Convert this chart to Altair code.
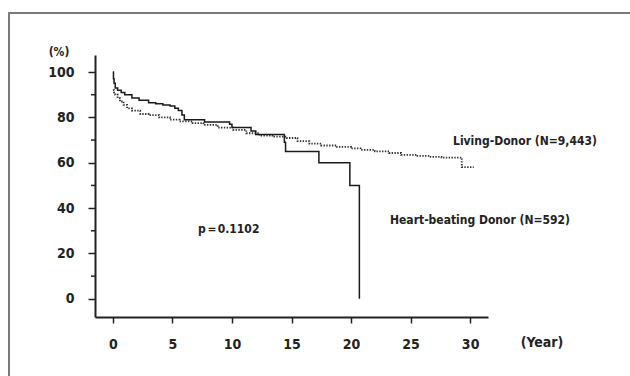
import altair as alt
import pandas as pd

# Heart-beating donor (solid) Kaplan-Meier steps
hb_years = [0, 0.05, 0.1, 0.2, 0.4, 0.7, 1.0, 1.6, 2.2, 3.0, 3.6, 4.2, 4.8, 5.2, 5.5, 5.8, 6.0, 7.7, 9.8, 10.0, 11.6, 12.0, 14.4, 14.5, 17.3, 19.9, 20.7, 20.7]
hb_surv  = [100, 97, 95, 93, 92, 91, 90, 88.5, 87.5, 86.5, 86, 85.5, 85, 84, 83, 81, 79, 78, 77, 75.5, 74, 72.5, 69, 65, 60, 50, 50, 0]

# Living donor (dotted) Kaplan-Meier steps
ld_years = [0, 0.1, 0.2, 0.4, 0.6, 0.9, 1.2, 1.6, 2.3, 3.0, 3.9, 4.8, 5.6, 6.7, 7.6, 8.8, 10.1, 11.2, 12.3, 13.4, 14.6, 15.5, 16.5, 17.5, 18.8, 20.0, 20.8, 22.0, 23.2, 24.2, 25.5, 26.6, 27.6, 29.3, 30.3]
ld_surv  = [92, 91, 90, 88.5, 87, 85.5, 84, 83, 81.5, 81, 80, 79, 78.2, 77.5, 76.7, 75.5, 74.5, 73, 72, 71.5, 70.9, 69.5, 68.4, 67.6, 67, 66.3, 65.7, 65, 64.3, 63.5, 63, 62.6, 62.3, 58.1, 58.1]

x_ticks = [0, 5, 10, 15, 20, 25, 30]
y_ticks = [0, 20, 40, 60, 80, 100]
y_minor = [10, 30, 50, 70, 90]

hb = pd.DataFrame({"year": hb_years, "surv": hb_surv})
ld = pd.DataFrame({"year": ld_years, "surv": ld_surv})

FONT = "DejaVu Sans Condensed"
xs = alt.Scale(domain=[-1.5, 31.5], nice=False, zero=False)
ys = alt.Scale(domain=[-8, 107.5], nice=False, zero=False)

x_enc = alt.X("year:Q", scale=xs, axis=alt.Axis(values=x_ticks, title=None, grid=False, tickSize=6,
              labelPadding=14, labelFontSize=14, labelFont=FONT, labelFontWeight="bold",
              domainColor="#222", domainWidth=2, tickColor="#222", tickWidth=1.5, labelColor="#222"))
y_enc = alt.Y("surv:Q", scale=ys, axis=alt.Axis(values=y_ticks, title=None, grid=False, tickSize=7,
              labelPadding=14, labelFontSize=14, labelFont=FONT, labelFontWeight="bold",
              domainColor="#222", domainWidth=2, tickColor="#222", tickWidth=1.5, labelColor="#222"))

living = alt.Chart(ld).mark_line(interpolate="step-after", color="#333", strokeWidth=1.8,
                                 strokeDash=[1.4, 1.4]).encode(x=x_enc, y=y_enc)
heart = alt.Chart(hb).mark_line(interpolate="step-after", color="#1a1a1a", strokeWidth=1.5).encode(
    x=alt.X("year:Q", scale=xs), y=alt.Y("surv:Q", scale=ys))

minor = alt.Chart(pd.DataFrame({"v": y_minor})).mark_rule(color="#222", strokeWidth=1.5).encode(
    y=alt.Y("v:Q", scale=ys), x=alt.value(-4), x2=alt.value(0))

labels = ["Living-Donor (N=9,443)", "Heart-beating Donor (N=592)", "p＝0.1102", "(Year)", "(%)"]

def txt(label, x, y, align="left", size=12):
    return alt.Chart(pd.DataFrame({"label": [label]})).mark_text(
        align=align, baseline="middle", font=FONT, fontWeight="bold", fontSize=size, color="#222"
    ).encode(text="label:N", x=alt.value(x), y=alt.value(y))

frame_top = alt.Chart(pd.DataFrame({"a": [0]})).mark_rule(color="#7a7a7a", strokeWidth=2).encode(
    x=alt.value(-86), x2=alt.value(540), y=alt.value(-42))
frame_left = alt.Chart(pd.DataFrame({"a": [0]})).mark_rule(color="#7a7a7a", strokeWidth=2).encode(
    x=alt.value(-86), y=alt.value(-43), y2=alt.value(330))

chart = alt.layer(
    frame_top, frame_left, living, heart, minor,
    txt(labels[0], 358, 86),
    txt(labels[1], 295, 165),
    txt(labels[2], 103, 174),
    txt(labels[3], 447, 288, align="center", size=14),
    txt(labels[4], -36, -3, align="center", size=12),
).properties(
    width=393, height=262,
    background="white",
    autosize=alt.AutoSizeParams(type="none"),
    padding={"left": 95, "top": 55, "right": 142, "bottom": 59},
).configure_view(stroke=None)

chart.save("out.html", embed_options={"renderer": "svg", "actions": False})
